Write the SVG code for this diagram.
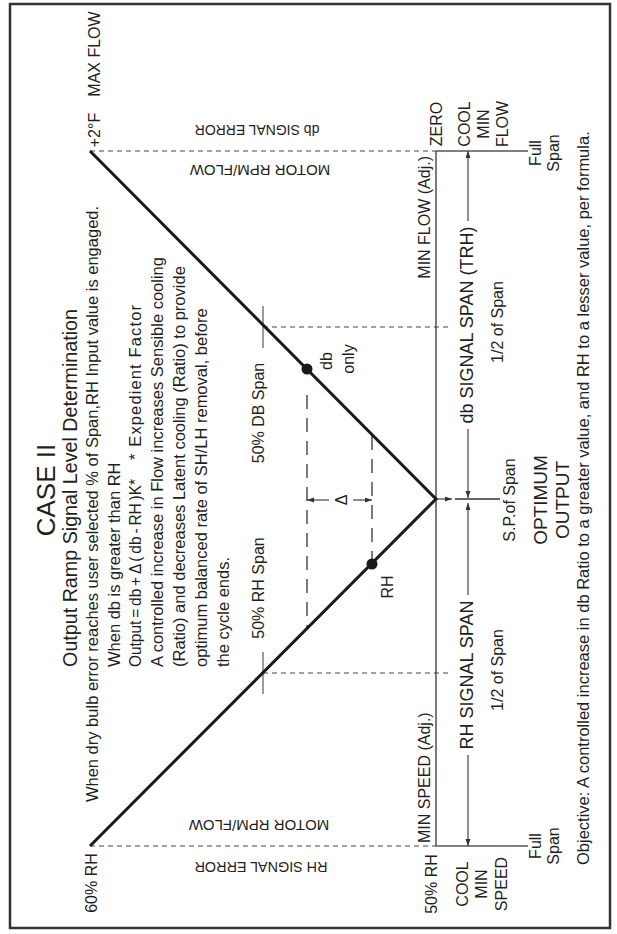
<svg xmlns="http://www.w3.org/2000/svg" width="617" height="934" viewBox="0 0 617 934">
<defs>
<marker id="ah" markerWidth="8" markerHeight="6" refX="7" refY="2.5" orient="auto" markerUnits="userSpaceOnUse"><path d="M0,0 L7,2.5 L0,5 z" fill="#333"/></marker>
</defs>
<style>
text{font-family:"Liberation Sans",Arial,sans-serif;fill:#231f20;font-size:16px}
.m{text-anchor:middle}
.e{text-anchor:end}
.big{font-size:18px}
.body{font-size:16.5px}
.thin{stroke:#333;stroke-width:1.3;fill:none}
.gray{stroke:#555;stroke-width:1.3;fill:none}
.dash{stroke:#444;stroke-width:1.2;stroke-dasharray:5 4;fill:none}
.ldash{stroke:#333;stroke-width:1.3;stroke-dasharray:14 9;fill:none}
.arr{stroke:#333;stroke-width:1.1;fill:none;marker-end:url(#ah)}
</style>
<rect id="frame" x="10" y="4" width="600" height="924" fill="#fff" stroke="#333" stroke-width="2.5"/>

<g id="connectors">
<line class="dash" x1="90" y1="151" x2="436" y2="151"/>
<line class="dash" x1="90" y1="846" x2="436" y2="846"/>
<line class="thin" x1="436" y1="151" x2="436" y2="846"/>
<line class="gray" x1="436" y1="151" x2="528" y2="151"/>
<line class="gray" x1="436" y1="846" x2="528" y2="846"/>
<line class="dash" x1="263" y1="327" x2="448" y2="327"/>
<line class="dash" x1="263" y1="673" x2="448" y2="673"/>
<line stroke="#666" stroke-width="1.3" x1="263" y1="306" x2="263" y2="348"/>
<line stroke="#666" stroke-width="1.3" x1="263" y1="652" x2="263" y2="694"/>
<line class="ldash" x1="307" y1="395" x2="307" y2="628"/>
<line class="ldash" x1="372" y1="436" x2="372" y2="560"/>
<line class="arr" x1="329" y1="500" x2="307" y2="500"/>
<line class="arr" x1="353" y1="500" x2="372" y2="500"/>
<line class="arr" x1="468" y1="221" x2="468" y2="151"/>
<line class="arr" x1="468" y1="429" x2="468" y2="498"/>
<line class="arr" x1="468" y1="595" x2="468" y2="503"/>
<line class="arr" x1="468" y1="755" x2="468" y2="846"/>
<line class="arr" x1="437" y1="499" x2="452" y2="499"/>
<line class="thin" x1="455" y1="499" x2="500" y2="499"/>
</g>

<g id="ramp">
<polyline points="90,151 436,499 90,846" fill="none" stroke="#1a1a1a" stroke-width="3" stroke-linejoin="miter"/>
<circle id="db-point" cx="307" cy="369" r="5.5" fill="#1a1a1a"/>
<circle id="rh-point" cx="372" cy="564" r="5.5" fill="#1a1a1a"/>
</g>

<g id="heading">
<text class="m" style="font-size:26px" x="55" y="490" transform="rotate(-90 55 490)">CASE II</text>
<text class="m" style="font-size:19.7px" x="77" y="488" transform="rotate(-90 77 488)">Output Ramp Signal Level Determination</text>
<text class="m body" x="98" y="504" transform="rotate(-90 98 504)">When dry bulb error reaches user selected % of Span,RH Input value is engaged.</text>
<text class="body" x="120" y="667" transform="rotate(-90 120 667)">When db is greater than RH</text>
<text class="body" style="word-spacing:-1.5px" x="141" y="667" transform="rotate(-90 141 667)" textLength="188" lengthAdjust="spacingAndGlyphs">Output = db + Δ ( db - RH )K*</text>
<text class="body" x="141" y="460" transform="rotate(-90 141 460)" textLength="155">* Expedient Factor</text>
<text class="body" x="163" y="667" transform="rotate(-90 163 667)">A controlled increase in Flow increases Sensible cooling</text>
<text class="body" x="185" y="667" transform="rotate(-90 185 667)">(Ratio) and decreases Latent cooling (Ratio) to provide</text>
<text class="body" x="207" y="667" transform="rotate(-90 207 667)">optimum balanced rate of SH/LH removal, before</text>
<text class="body" x="229" y="667" transform="rotate(-90 229 667)">the cycle ends.</text>
</g>

<g id="top-end">
<text class="m" x="100" y="54" transform="rotate(-90 100 54)">MAX FLOW</text>
<text class="m" x="100" y="130" transform="rotate(-90 100 130)">+2°F</text>
<text class="m" style="font-size:14px" x="257" y="125" transform="rotate(180 257 125)">db SIGNAL ERROR</text>
<text class="m" style="font-size:15px" x="260" y="165" transform="rotate(180 260 165)">MOTOR RPM/FLOW</text>
<text class="m" x="442" y="124" transform="rotate(-90 442 124)">ZERO</text>
<text class="m" x="470" y="124" transform="rotate(-90 470 124)">COOL</text>
<text class="m" x="489" y="124" transform="rotate(-90 489 124)">MIN</text>
<text class="m" x="508" y="124" transform="rotate(-90 508 124)">FLOW</text>
<text class="m" x="541" y="153" transform="rotate(-90 541 153)">Full</text>
<text class="m" x="559" y="153" transform="rotate(-90 559 153)">Span</text>
<text class="e" x="430" y="156" transform="rotate(-90 430 156)">MIN FLOW (Adj.)</text>
</g>

<g id="bottom-end">
<text class="m" x="97" y="883" transform="rotate(-90 97 883)">60% RH</text>
<text class="m" style="font-size:15px" x="259" y="820" transform="rotate(180 259 820)">MOTOR RPM/FLOW</text>
<text class="m" style="font-size:14.4px" x="261" y="862" transform="rotate(180 261 862)">RH SIGNAL ERROR</text>
<text class="m" x="437" y="884" transform="rotate(-90 437 884)">50% RH</text>
<text class="m" x="468" y="884" transform="rotate(-90 468 884)">COOL</text>
<text class="m" x="487" y="884" transform="rotate(-90 487 884)">MIN</text>
<text class="m" x="507" y="884" transform="rotate(-90 507 884)">SPEED</text>
<text class="m" x="541" y="846" transform="rotate(-90 541 846)">Full</text>
<text class="m" x="559" y="846" transform="rotate(-90 559 846)">Span</text>
<text x="430" y="843" transform="rotate(-90 430 843)">MIN SPEED (Adj.)</text>
</g>

<g id="spans">
<text class="m big" x="473" y="325" transform="rotate(-90 473 325)">db SIGNAL SPAN (TRH)</text>
<text class="m big" x="473" y="675" transform="rotate(-90 473 675)">RH SIGNAL SPAN</text>
<text class="m" x="503" y="322" transform="rotate(-90 503 322)">1/2 of Span</text>
<text class="m" x="503" y="670" transform="rotate(-90 503 670)">1/2 of Span</text>
<text class="m" x="515" y="500" transform="rotate(-90 515 500)">S.P.of Span</text>
<text class="m" style="font-size:19px" x="547" y="500" transform="rotate(-90 547 500)">OPTIMUM</text>
<text class="m" style="font-size:19px" x="569" y="500" transform="rotate(-90 569 500)">OUTPUT</text>
<text class="body" x="589" y="865" transform="rotate(-90 589 865)">Objective: A controlled increase in db Ratio to a greater value, and RH to a lesser value, per formula.</text>
</g>

<g id="ramp-labels">
<text class="m" x="264" y="413" transform="rotate(-90 264 413)">50% DB Span</text>
<text class="m" x="264" y="588" transform="rotate(-90 264 588)">50% RH Span</text>
<text class="m" x="332" y="361" transform="rotate(-90 332 361)">db</text>
<text class="m" x="354" y="359" transform="rotate(-90 354 359)">only</text>
<text class="m" x="393" y="587" transform="rotate(-90 393 587)">RH</text>
<text class="m" x="347" y="500" transform="rotate(-90 347 500)">Δ</text>
</g>
</svg>
